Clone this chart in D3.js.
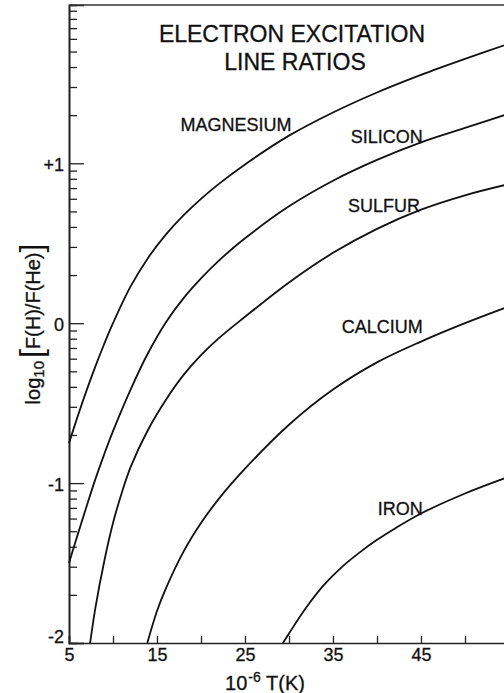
<!DOCTYPE html>
<html>
<head>
<meta charset="utf-8">
<script src="https://cdn.jsdelivr.net/npm/d3@7"></script>
<style>
body { margin: 0; background: #fff; }
svg { display: block; }
text { font-family: "Liberation Sans", Arial, Helvetica, sans-serif; fill: #111; stroke: #111; stroke-width: 0.3px; }
</style>
</head>
<body>
<svg width="504" height="693"></svg>
<script>
// temperature in units of 10^6 K, and log10 F(H)/F(He) for each element
var magnesiumT = [5, 6, 7, 8, 9, 10, 12, 14, 16, 18, 20, 22, 25, 30, 35, 40, 45, 50, 55];
var magnesium  = [-0.75, -0.58, -0.42, -0.27, -0.13, 0.0, 0.23, 0.41, 0.554, 0.674, 0.778, 0.87, 0.993, 1.173, 1.318, 1.443, 1.553, 1.653, 1.748];

var siliconT = [5, 6, 7, 8, 9, 10, 12, 14, 16, 18, 20, 22, 25, 30, 35, 40, 45, 50, 55];
var silicon  = [-1.50, -1.32, -1.145, -0.975, -0.82, -0.675, -0.415, -0.185, 0.005, 0.155, 0.28, 0.39, 0.531, 0.731, 0.891, 1.021, 1.131, 1.221, 1.311];

var sulfurT = [7.4, 8, 9, 10, 11, 12, 14, 16, 18, 20, 22, 25, 30, 35, 40, 45, 50, 55];
var sulfur  = [-2.0, -1.78, -1.49, -1.25, -1.06, -0.90, -0.665, -0.48, -0.325, -0.20, -0.095, 0.04, 0.255, 0.44, 0.59, 0.71, 0.80, 0.87];

var calciumT = [13.9, 15, 16, 18, 20, 22, 25, 30, 35, 40, 45, 50, 55];
var calcium  = [-2.0, -1.80, -1.66, -1.43, -1.25, -1.10, -0.91, -0.635, -0.415, -0.245, -0.115, 0.0, 0.105];

var ironT = [29.3, 30, 32, 34, 36, 38, 40, 42, 45, 50, 55];
var iron  = [-2.0, -1.94, -1.775, -1.635, -1.525, -1.435, -1.355, -1.285, -1.19, -1.065, -0.96];

var xTicks = [5, 10, 15, 20, 25, 30, 35, 40, 45, 50, 55];
var xTickLabels = [5, 15, 25, 35, 45];
var yMajor = [-2, -1, 0, 1];
var yLabels = ["-2", "-1", "0", "+1"];

// curve name labels: right end (T) and baseline (log ratio)
var labelNames = ["MAGNESIUM", "SILICON", "SULFUR", "CALCIUM", "IRON"];
var labelT = [30.3, 45.2, 44.9, 45.2, 45.2];
var labelV = [1.20, 1.13, 0.695, -0.06, -1.20];

var series = [
    [magnesiumT, magnesium],
    [siliconT, silicon],
    [sulfurT, sulfur],
    [calciumT, calcium],
    [ironT, iron]
];

var svg = d3.select("svg");

var x = d3.scaleLinear().domain([5, 55]).range([69, 509]);
var y = d3.scaleLinear().domain([-2, 1.99]).range([643, 5]);

// log-spaced minor ticks inside each decade
var yMinor = [];
for (var dec = -2; dec < 2; dec++) {
    for (var k = 2; k <= 9; k++) {
        var v = dec + Math.log10(k);
        if (v < 1.99) yMinor.push(v);
    }
}

svg.append("g").attr("class", "yminor").attr("transform", "translate(" + x(5) + ",0)")
    .call(d3.axisLeft(y).tickValues(yMinor).tickSize(-8).tickFormat(""));

svg.append("g").attr("class", "ymajor").attr("transform", "translate(" + x(5) + ",0)")
    .call(d3.axisLeft(y).tickValues(yMajor).tickSize(-15).tickPadding(5).tickFormat(function (d, i) {
        return yLabels[i];
    }));

svg.append("g").attr("class", "xaxis").attr("transform", "translate(0," + y(-2) + ")")
    .call(d3.axisBottom(x).tickValues(xTicks).tickSize(-7).tickPadding(5).tickFormat(function (d) {
        return xTickLabels.indexOf(d) >= 0 ? d : "";
    }));

svg.selectAll(".domain").style("stroke", "#222").style("stroke-width", 1.6);
svg.selectAll(".tick line").style("stroke", "#222").style("stroke-width", 1.3);
svg.selectAll(".tick text").style("font-size", "18px").style("font-family", "Liberation Sans, Arial, sans-serif")
    .style("fill", "#111").style("stroke", "#111").style("stroke-width", 0.3);
svg.select(".ymajor").selectAll(".tick text").attr("dy", function (d) {
    return d === -2 ? "-0.05em" : "0.4em";
});

// top frame line
svg.append("line").attr("x1", x(5)).attr("x2", 504).attr("y1", y(1.99)).attr("y2", y(1.99))
    .style("stroke", "#333").style("stroke-width", 1.3);

var line = d3.line().x(function (d) { return x(d[0]); }).y(function (d) { return y(d[1]); })
    .curve(d3.curveCatmullRom.alpha(0.5));

svg.append("g").attr("id", "curves").selectAll("path").data(series).enter().append("path")
    .attr("d", function (s) {
        return line(s[0].map(function (t, i) { return [t, s[1][i]]; }));
    })
    .style("fill", "none").style("stroke", "#111").style("stroke-width", 1.8);

svg.append("g").selectAll("text").data(labelNames).enter().append("text")
    .attr("x", function (d, i) { return x(labelT[i]); })
    .attr("y", function (d, i) { return y(labelV[i]); })
    .attr("text-anchor", "end").style("font-size", "18px")
    .text(function (d) { return d; });

// title
svg.append("text").attr("x", 292).attr("y", 42).attr("text-anchor", "middle")
    .style("font-size", "23px").text("ELECTRON EXCITATION");
svg.append("text").attr("x", 295).attr("y", 70).attr("text-anchor", "middle")
    .style("font-size", "23px").text("LINE RATIOS");

// x axis title
var xt = svg.append("text").attr("x", 265).attr("y", 690).attr("text-anchor", "middle").style("font-size", "20px");
xt.append("tspan").text("10");
xt.append("tspan").attr("dy", -8).attr("dx", 1).style("font-size", "14px").text("-6");
xt.append("tspan").attr("dy", 8).text(" T(K)");

// y axis title
var yt = svg.append("text").attr("transform", "translate(40,324) rotate(-90)").attr("text-anchor", "middle")
    .style("font-size", "20px");
yt.append("tspan").text("log");
yt.append("tspan").attr("dy", 4).style("font-size", "15px").text("10");
yt.append("tspan").attr("dy", -2).attr("dx", 3).style("font-size", "32px").style("stroke-width", 0).text("[");
yt.append("tspan").attr("dy", -2).text("F(H)/F(He)");
yt.append("tspan").attr("dy", 2).style("font-size", "32px").style("stroke-width", 0).text("]");
</script>
</body>
</html>
